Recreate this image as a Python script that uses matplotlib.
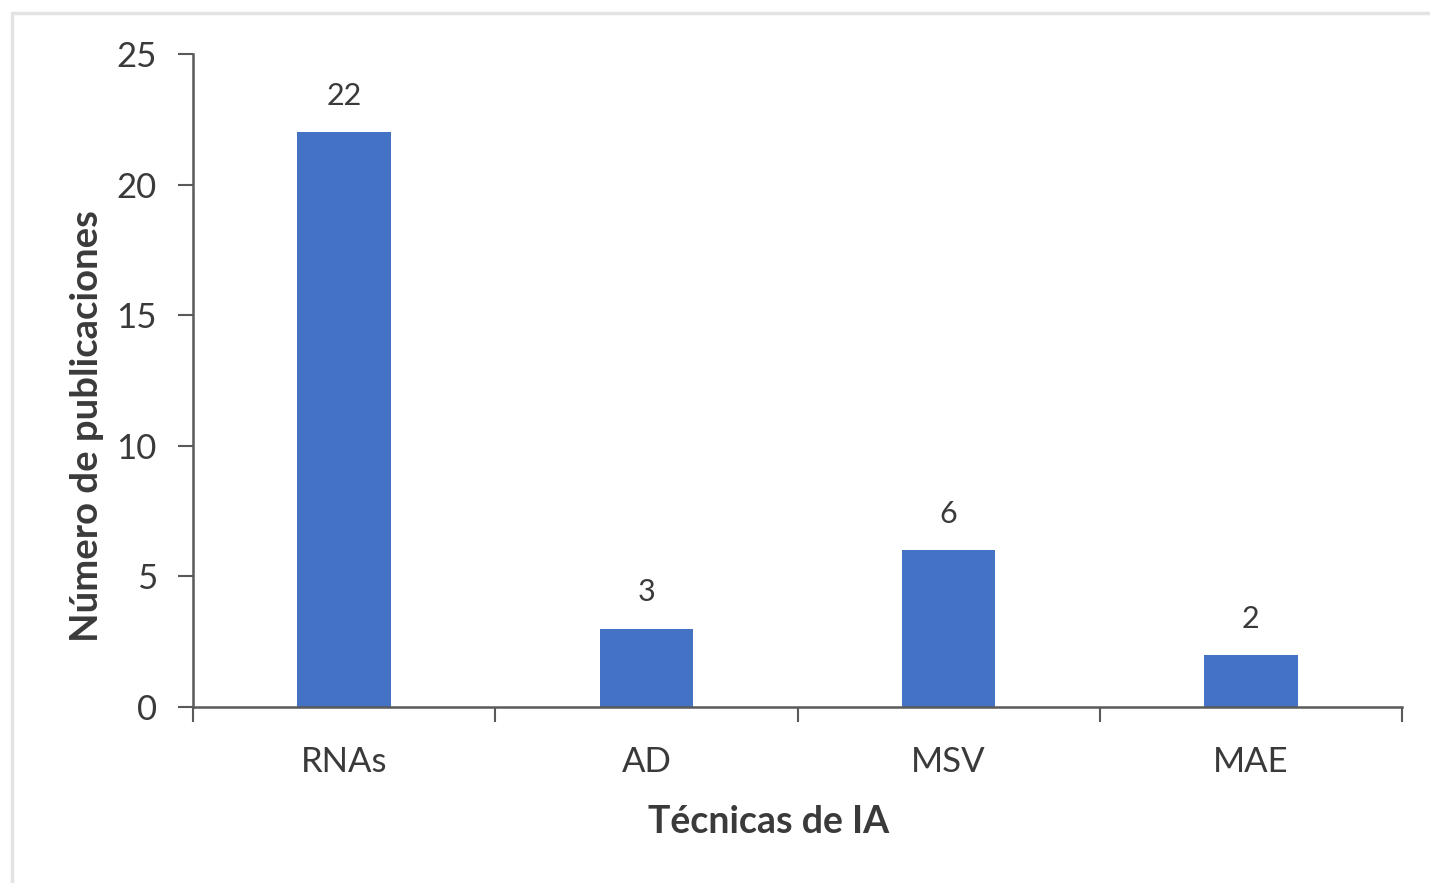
import matplotlib
matplotlib.use("Agg")
import matplotlib.pyplot as plt
from matplotlib.patches import Rectangle

# Publicaciones por técnica de inteligencia artificial
categories = ["RNAs", "AD", "MSV", "MAE"]
counts = [22, 3, 6, 2]
y_ticks = [0, 5, 10, 15, 20, 25]

bar_color = "#4472C4"
text_color = "#3a3a3a"
axis_color = "#595959"

plt.rcParams["font.family"] = ["Lato", "DejaVu Sans"]

fig = plt.figure(figsize=(14.30, 8.83), dpi=100)
ax = fig.add_axes([193 / 1430, 1 - 707 / 883, (1402 - 193) / 1430, (707 - 54) / 883])

# light frame around the chart area
fig.patches.append(Rectangle((12 / 1430, -0.05), 1.1, 1 - 13 / 883 + 0.05,
                             transform=fig.transFigure, fill=False,
                             edgecolor="#e3e3e3", linewidth=2.5))

x = list(range(len(categories)))
bars = ax.bar(x, counts, width=0.31, color=bar_color, zorder=2)

for xi, v in zip(x, counts):
    ax.annotate(str(v), (xi, v), xytext=(0, 16), textcoords="offset points",
                ha="center", va="bottom", fontsize=22, color=text_color)

ax.set_xlim(-0.5, len(categories) - 0.5)
ax.set_ylim(0, 25)
ax.set_yticks(y_ticks)
ax.set_xticks(x)
ax.set_xticklabels(categories)
ax.set_xticks([i - 0.5 for i in range(len(categories) + 1)], minor=True)

ax.tick_params(axis="y", direction="out", length=11, width=1.5, color=axis_color,
               labelsize=25, labelcolor=text_color, pad=15)
ax.tick_params(axis="x", which="major", length=0, labelsize=25,
               labelcolor=text_color, pad=28)
ax.tick_params(axis="x", which="minor", direction="out", length=11, width=1.5,
               color=axis_color)

for side in ("top", "right"):
    ax.spines[side].set_visible(False)
for side in ("left", "bottom"):
    ax.spines[side].set_color(axis_color)
    ax.spines[side].set_linewidth(1.8)
    ax.spines[side].set_zorder(3)

ax.set_xlabel("Técnicas de IA", fontsize=27, fontweight="bold", color=text_color)
ax.set_ylabel("Número de publicaciones", fontsize=27.5, fontweight="bold", color=text_color)
ax.xaxis.set_label_coords((769 - 193) / (1402 - 193), -(822 - 707) / (707 - 54))
ax.yaxis.set_label_coords(-(193 - 87) / (1402 - 193), (707 - 426) / (707 - 54))
ax.xaxis.label.set_va("center")
ax.yaxis.label.set_va("center")

fig.savefig("out.png", dpi=100, facecolor="white")
